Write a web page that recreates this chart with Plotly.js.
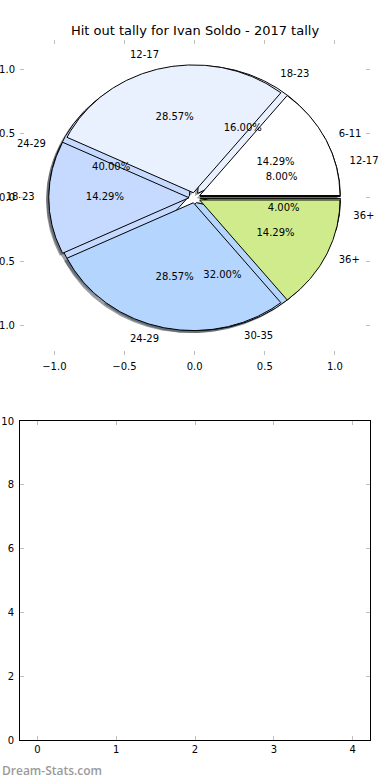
<!DOCTYPE html>
<html>
<head>
<meta charset="utf-8">
<script src="https://cdn.plot.ly/plotly-3.0.1.min.js"></script>
<style>html,body{margin:0;padding:0;background:#fff;}#chart{width:390px;height:780px;}</style>
</head>
<body>
<div id="chart"></div>
<script>
// ---- data ----
const chartTitle = 'Hit out tally for Ivan Soldo - 2017 tally';
const pieALabels = ['6-11', '12-17', '18-23', '24-29', '36+'];
const pieAValues = [1, 2, 1, 2, 1];
const pieBLabels = ['12-17', '18-23', '24-29', '30-35', '36+'];
const pieBValues = [2, 4, 10, 8, 1];
const sliceColors = ['#ffffff', '#eaf1fe', '#c6d9fe', '#b4d5fe', '#d0eb8b'];
const pieTickVals = [-1, -0.5, 0, 0.5, 1];
const pieTickText = ['\u22121.0', '\u22120.5', '0.0', '0.5', '1.0'];
const emptyXTicks = [0, 1, 2, 3, 4];
const emptyYTicks = [0, 2, 4, 6, 8, 10];
const watermark = 'Dream-Stats.com';

// ---- style ----
const EXPLODE = 0.04, RADIUS = 1, LABEL_DIST = 1.1, PCT_DIST = 0.6, SHADOW_OFF = 0.02;
const FONT = 'DejaVu Sans, sans-serif';

function shadowColor(hex) {
  const r = parseInt(hex.slice(1, 3), 16), g = parseInt(hex.slice(3, 5), 16), b = parseInt(hex.slice(5, 7), 16);
  return 'rgba(' + Math.round(r * 0.3) + ',' + Math.round(g * 0.3) + ',' + Math.round(b * 0.3) + ',0.5)';
}

function pieGeometry(values) {
  const total = values.reduce((a, b) => a + b, 0);
  let start = 0;
  return values.map(v => {
    const a1 = start, a2 = start + 360 * v / total;
    start = a2;
    const mid = (a1 + a2) / 2 * Math.PI / 180;
    const cx = EXPLODE * Math.cos(mid), cy = EXPLODE * Math.sin(mid);
    const xs = [cx], ys = [cy];
    const n = Math.max(8, Math.ceil((a2 - a1) / 0.5));
    for (let i = 0; i <= n; i++) {
      const t = (a1 + (a2 - a1) * i / n) * Math.PI / 180;
      xs.push(cx + RADIUS * Math.cos(t));
      ys.push(cy + RADIUS * Math.sin(t));
    }
    xs.push(cx); ys.push(cy);
    return {xs, ys, mid, cx, cy, frac: v / total};
  });
}

function shadowTraces(geo) {
  return geo.map((g, i) => ({
    type: 'scatter', mode: 'lines', fill: 'toself',
    x: g.xs.map(x => x - SHADOW_OFF), y: g.ys.map(y => y - SHADOW_OFF),
    line: {width: 0, color: 'rgba(0,0,0,0)'}, fillcolor: shadowColor(sliceColors[i % sliceColors.length]),
    hoverinfo: 'skip', showlegend: false, xaxis: 'x', yaxis: 'y'
  }));
}
function wedgeTraces(geo) {
  return geo.map((g, i) => ({
    type: 'scatter', mode: 'lines', fill: 'toself',
    x: g.xs, y: g.ys,
    line: {width: 1, color: '#000'}, fillcolor: sliceColors[i % sliceColors.length],
    hoverinfo: 'skip', showlegend: false, xaxis: 'x', yaxis: 'y'
  }));
}
function labelTrace(geo, labels) {
  const xs = geo.map(g => g.cx + LABEL_DIST * RADIUS * Math.cos(g.mid));
  const ys = geo.map(g => g.cy + LABEL_DIST * RADIUS * Math.sin(g.mid));
  return {
    type: 'scatter', mode: 'text', x: xs, y: ys, text: labels,
    textposition: xs.map(x => x > 0 ? 'middle right' : 'middle left'),
    textfont: {family: FONT, size: 10, color: '#000'},
    cliponaxis: false, hoverinfo: 'skip', showlegend: false, xaxis: 'x', yaxis: 'y'
  };
}
function pctTrace(geo) {
  return {
    type: 'scatter', mode: 'text',
    x: geo.map(g => g.cx + PCT_DIST * RADIUS * Math.cos(g.mid)),
    y: geo.map(g => g.cy + PCT_DIST * RADIUS * Math.sin(g.mid)),
    text: geo.map(g => (g.frac * 100).toFixed(2) + '%'),
    textposition: 'middle center',
    textfont: {family: FONT, size: 10, color: '#000'},
    cliponaxis: false, hoverinfo: 'skip', showlegend: false, xaxis: 'x', yaxis: 'y'
  };
}

const geoA = pieGeometry(pieAValues);
const geoB = pieGeometry(pieBValues);

const traces = [].concat(
  shadowTraces(geoB), shadowTraces(geoA),
  wedgeTraces(geoB), wedgeTraces(geoA),
  [labelTrace(geoB, pieBLabels), pctTrace(geoB), labelTrace(geoA, pieALabels), pctTrace(geoA)],
  [{type: 'scatter', mode: 'markers', x: [], y: [], xaxis: 'x2', yaxis: 'y2', showlegend: false}]
);

const tickStyle = {
  ticks: 'inside', ticklen: 4, tickwidth: 1, tickcolor: '#bfbfbf',
  showgrid: false, zeroline: false,
  tickfont: {family: FONT, size: 10, color: '#000'}
};

const layout = {
  width: 390, height: 780,
  margin: {l: 20, r: 20, t: 40, b: 40},
  paper_bgcolor: '#fff', plot_bgcolor: 'rgba(0,0,0,0)',
  font: {family: FONT, size: 10, color: '#000'},
  title: {text: chartTitle, font: {family: FONT, size: 13, color: '#000'},
          x: 0.5, xanchor: 'center', xref: 'paper', y: 1 - 30 / 780, yanchor: 'middle', yref: 'container'},
  showlegend: false,
  xaxis: Object.assign({}, tickStyle, {domain: [0, 1], anchor: 'y', range: [-1.245, 1.25],
    tickmode: 'array', tickvals: pieTickVals, ticktext: pieTickText,
    showline: true, linecolor: 'rgba(0,0,0,0)', mirror: 'ticks', ticklabelstandoff: 2}),
  yaxis: Object.assign({}, tickStyle, {domain: [0.55, 1], anchor: 'x', range: [-1.23, 1.234],
    tickmode: 'array', tickvals: pieTickVals, ticktext: pieTickText,
    showline: true, linecolor: 'rgba(0,0,0,0)', mirror: 'ticks', ticklabelstandoff: 2}),
  xaxis2: Object.assign({}, tickStyle, {domain: [0, 1], anchor: 'y2', range: [-0.22, 4.22],
    tickmode: 'array', tickvals: emptyXTicks, ticktext: emptyXTicks.map(String),
    showline: true, linecolor: '#000', linewidth: 1, mirror: 'ticks'}),
  yaxis2: Object.assign({}, tickStyle, {domain: [0, 319 / 700], anchor: 'x2', range: [0, 10],
    tickmode: 'array', tickvals: emptyYTicks, ticktext: emptyYTicks.map(String),
    showline: true, linecolor: '#000', linewidth: 1, mirror: 'ticks', ticklabelstandoff: 3}),
  annotations: [{text: watermark, xref: 'paper', yref: 'paper', x: -20 / 350, y: -30 / 700,
    xanchor: 'left', yanchor: 'middle', showarrow: false,
    font: {family: 'Open Sans, sans-serif', size: 12, color: '#9a9a9a', weight: 600}}]
};

Plotly.newPlot('chart', traces, layout, {staticPlot: true, displayModeBar: false});
</script>
</body>
</html>
